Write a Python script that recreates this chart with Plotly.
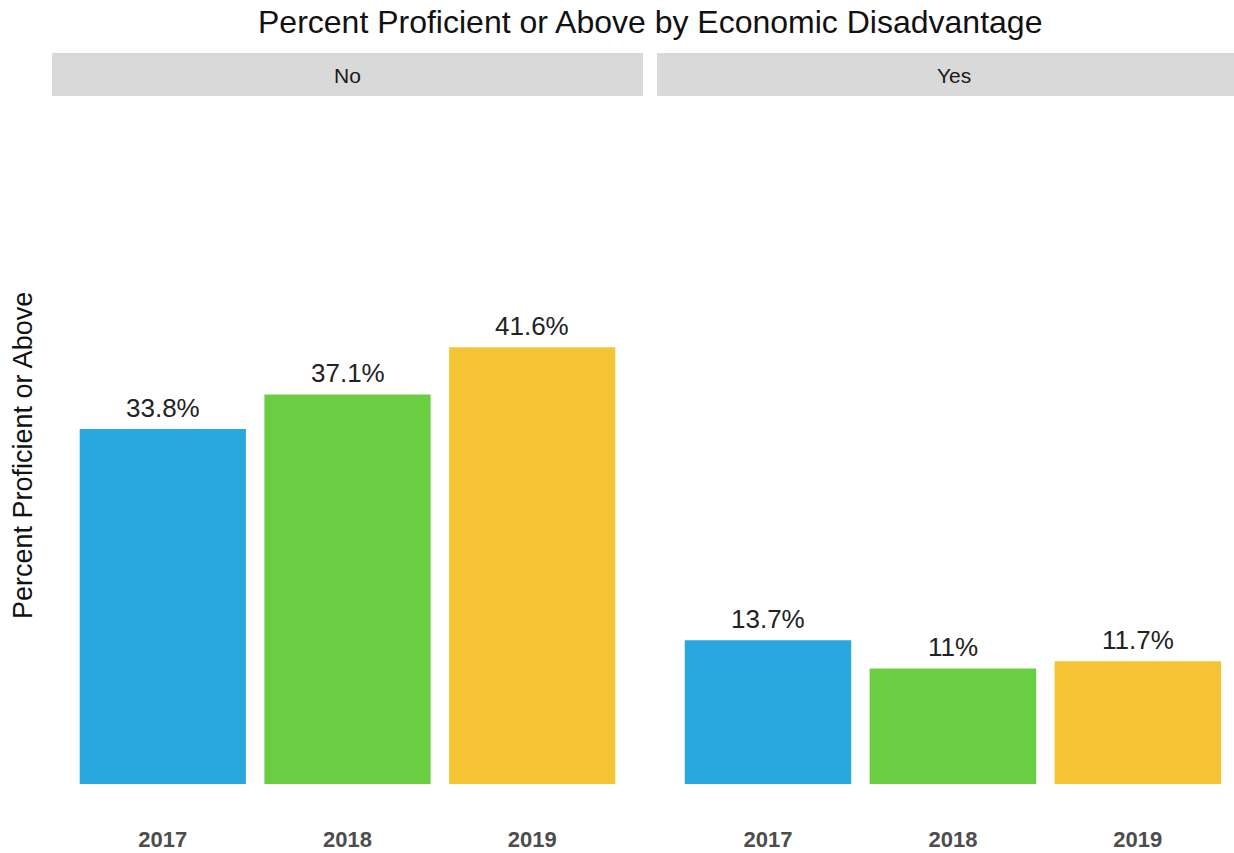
import plotly.graph_objects as go

# Data
years = ["2017", "2018", "2019"]
groups = ["No", "Yes"]
pct_no = [33.8, 37.1, 41.6]
pct_yes = [13.7, 11.0, 11.7]
bar_colors = ["#29A8E0", "#6BCD42", "#F4C434"]

W, H = 1234, 853
FONT = "Liberation Sans, Arial, sans-serif"


def px_x(p):
    return p / W


def px_y(p):
    return 1 - p / H


fig = go.Figure()

# panel geometry (pixels)
left_dom = [px_x(52), px_x(643)]
right_dom = [px_x(657), 1.0]
y_dom = [px_y(820), px_y(97)]

series = [pct_no, pct_yes]
axes = [("x", "y"), ("x2", "y2")]
for vals, (xa, ya) in zip(series, axes):
    fig.add_trace(go.Bar(
        x=years, y=vals, xaxis=xa, yaxis=ya,
        marker=dict(color=bar_colors, line=dict(width=0)),
        width=0.9, showlegend=False, hoverinfo="skip",
    ))
    # value labels above each bar (category index positions)
    for i, v in enumerate(vals):
        fig.add_annotation(
            x=i, y=v, xref=xa, yref=ya, text=f"{v:g}%",
            showarrow=False, xanchor="center", yanchor="bottom", yshift=4,
            font=dict(family=FONT, size=26, color="#222222"),
        )

yr_range = [-3.43, 65.43]
tick_font = dict(family=FONT, size=22, color="#4D4D4D", weight="bold")

fig.update_layout(
    width=W, height=H,
    margin=dict(l=0, r=0, t=0, b=0),
    paper_bgcolor="white", plot_bgcolor="white",
    bargap=0.1,
    xaxis=dict(domain=left_dom, type="category", range=[-0.6, 2.6],
               showgrid=False, zeroline=False, showline=False, ticks="",
               tickfont=tick_font, ticklabelstandoff=4, fixedrange=True),
    xaxis2=dict(domain=right_dom, type="category", range=[-0.6, 2.52],
                showgrid=False, zeroline=False, showline=False, ticks="",
                tickfont=tick_font, ticklabelstandoff=4, anchor="y2",
                fixedrange=True),
    yaxis=dict(domain=y_dom, range=yr_range, showgrid=False, zeroline=False,
               showticklabels=False, ticks="", showline=False),
    yaxis2=dict(domain=y_dom, range=yr_range, showgrid=False, zeroline=False,
                showticklabels=False, ticks="", showline=False, anchor="x2"),
)

# facet strips
for x0, x1, cx, label in [(52, 643, 348, groups[0]), (657, W, 954, groups[1])]:
    fig.add_shape(type="rect", xref="paper", yref="paper",
                  x0=px_x(x0), x1=px_x(x1), y0=px_y(96), y1=px_y(53),
                  fillcolor="#D9D9D9", line=dict(width=0), layer="below")
    fig.add_annotation(x=px_x(cx), y=px_y(75), xref="paper", yref="paper",
                       xanchor="center", yanchor="middle",
                       text=label, showarrow=False,
                       font=dict(family=FONT, size=21, color="#1A1A1A"))

# title
fig.add_annotation(x=px_x(650), y=px_y(22), xref="paper", yref="paper",
                   xanchor="center", yanchor="middle",
                   text="Percent Proficient or Above by Economic Disadvantage",
                   showarrow=False,
                   font=dict(family=FONT, size=32, color="#111111"))

# y-axis title
fig.add_annotation(x=px_x(23), y=px_y(456), xref="paper", yref="paper",
                   xanchor="center", yanchor="middle",
                   text="Percent Proficient or Above", textangle=-90,
                   showarrow=False,
                   font=dict(family=FONT, size=27, color="#111111"))

fig.write_html("out.html")
